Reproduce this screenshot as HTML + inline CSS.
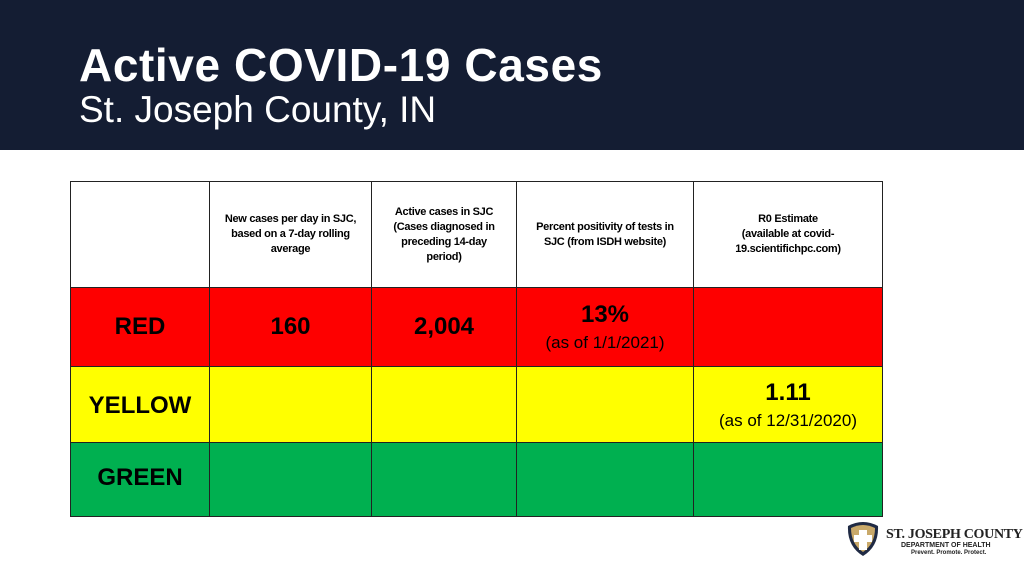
<!DOCTYPE html>
<html><head><meta charset="utf-8"><style>
body{margin:0;width:1024px;height:576px;background:#fff;position:relative;overflow:hidden;font-family:"Liberation Sans",Arial,sans-serif}
#hdr{position:absolute;left:0;top:0;width:1024px;height:150px;background:#141d33}
.t1{position:absolute;left:79px;top:39px;color:#fff;font-weight:bold;font-size:46px;line-height:52px;letter-spacing:0.6px}
.t2{position:absolute;left:79px;top:89px;color:#fff;font-size:37px;line-height:42px}
.c{position:absolute;box-sizing:border-box;border:1px solid #222;display:flex;flex-direction:column;align-items:center;justify-content:center;text-align:center;color:#000}
.h{font-weight:bold;font-size:11px;line-height:15px;background:#fff;letter-spacing:-0.3px}
.big{font-weight:bold;font-size:24px}
.sm{font-size:17px;margin-top:4px}
</style></head><body>
<div id="hdr">
<div class="t1">Active COVID-19 Cases</div>
<div class="t2">St. Joseph County, IN</div>
</div>
<div>
<div class="c h" style="left:70px;top:181px;width:140px;height:107px"></div>
<div class="c h" style="left:209px;top:181px;width:163px;height:107px">New cases per day in SJC,<br>based on a 7-day rolling<br>average</div>
<div class="c h" style="left:371px;top:181px;width:146px;height:107px">Active cases in SJC<br>(Cases diagnosed in<br>preceding 14-day<br>period)</div>
<div class="c h" style="left:516px;top:181px;width:178px;height:107px">Percent positivity of tests in<br>SJC (from ISDH website)</div>
<div class="c h" style="left:693px;top:181px;width:190px;height:107px">R0 Estimate<br>(available at covid-<br>19.scientifichpc.com)</div>

<div class="c" style="left:70px;top:287px;width:140px;height:80px;background:#fe0000"><span class="big">RED</span></div>
<div class="c" style="left:209px;top:287px;width:163px;height:80px;background:#fe0000"><span class="big">160</span></div>
<div class="c" style="left:371px;top:287px;width:146px;height:80px;background:#fe0000"><span class="big">2,004</span></div>
<div class="c" style="left:516px;top:287px;width:178px;height:80px;background:#fe0000"><span class="big">13%</span><span class="sm">(as of 1/1/2021)</span></div>
<div class="c" style="left:693px;top:287px;width:190px;height:80px;background:#fe0000"></div>

<div class="c" style="left:70px;top:366px;width:140px;height:77px;background:#ffff00"><span class="big" style="margin-top:2px">YELLOW</span></div>
<div class="c" style="left:209px;top:366px;width:163px;height:77px;background:#ffff00"></div>
<div class="c" style="left:371px;top:366px;width:146px;height:77px;background:#ffff00"></div>
<div class="c" style="left:516px;top:366px;width:178px;height:77px;background:#ffff00"></div>
<div class="c" style="left:693px;top:366px;width:190px;height:77px;background:#ffff00"><span class="big">1.11</span><span class="sm">(as of 12/31/2020)</span></div>

<div class="c" style="left:70px;top:442px;width:140px;height:75px;background:#00b050"><span class="big" style="margin-bottom:4px">GREEN</span></div>
<div class="c" style="left:209px;top:442px;width:163px;height:75px;background:#00b050"></div>
<div class="c" style="left:371px;top:442px;width:146px;height:75px;background:#00b050"></div>
<div class="c" style="left:516px;top:442px;width:178px;height:75px;background:#00b050"></div>
<div class="c" style="left:693px;top:442px;width:190px;height:75px;background:#00b050"></div>
</div>

<div style="position:absolute;left:845px;top:520px;width:175px;height:40px">
<svg width="36" height="38" viewBox="0 0 36 38" style="position:absolute;left:0;top:0">
<path d="M3 6 Q18 -2 33 6 Q34 26 18 36 Q2 26 3 6Z" fill="#1f2a44"/>
<path d="M6 8 Q18 2 30 8 Q30 24 18 32 Q6 24 6 8Z" fill="#c9a96a"/>
<path d="M14 10h8v5h5v7h-5v8h-8v-8h-5v-7h5z" fill="#fff"/>
</svg>
<div style="position:absolute;left:41px;top:7px;font-family:'Liberation Serif',serif;font-weight:bold;font-size:14px;color:#222;white-space:nowrap;letter-spacing:-0.3px">ST. JOSEPH COUNTY</div>
<div style="position:absolute;left:56px;top:22px;font-weight:bold;font-size:7px;color:#222;white-space:nowrap">DEPARTMENT OF HEALTH</div>
<div style="position:absolute;left:66px;top:30px;font-weight:bold;font-size:6px;color:#222;white-space:nowrap">Prevent. Promote. Protect.</div>
</div>
</body></html>
